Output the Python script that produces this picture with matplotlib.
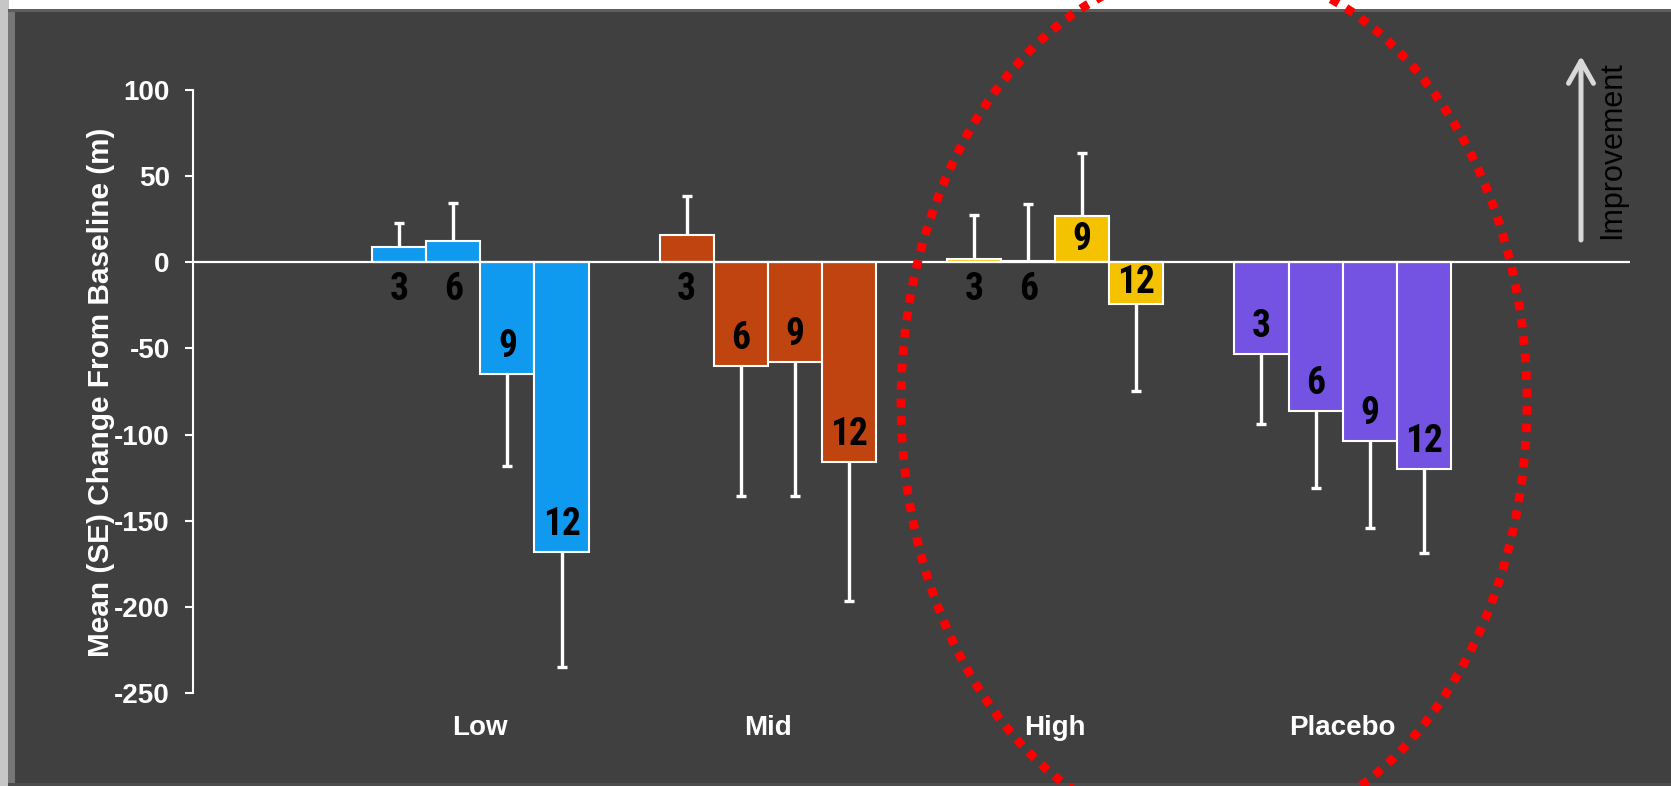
import matplotlib
matplotlib.use("Agg")
import matplotlib.pyplot as plt
from matplotlib import font_manager
from matplotlib.patches import Rectangle, Ellipse, Polygon, FancyArrowPatch
import numpy as np

W, H, DPI = 1671, 786, 100

# Mean (SE) change from baseline, by dose group and month
groups = ["Low", "Mid", "High", "Placebo"]
months = ["3", "6", "9", "12"]
low_mean = [9, 12.5, -65, -168]
low_se = [14, 22, 53, 67]
mid_mean = [16, -60, -58, -116]
mid_se = [22.5, 75.5, 77.5, 80.5]
high_mean = [1.7, 0.5, 27, -24]
high_se = [26, 33.5, 36.5, 51]
placebo_mean = [-53, -86.5, -104, -120]
placebo_se = [41, 44.5, 50, 49]
group_colors = ["#109AEF", "#C0440F", "#F5C200", "#7452E2"]
y_ticks = [100, 50, 0, -50, -100, -150, -200, -250]

means = [low_mean, mid_mean, high_mean, placebo_mean]
ses = [low_se, mid_se, high_se, placebo_se]

avail = {f.name for f in font_manager.fontManager.ttflist}
narrow = next((f for f in ["Liberation Sans Narrow", "DejaVu Sans Condensed",
                           "Roboto Condensed"] if f in avail), "Liberation Sans")
plt.rcParams["font.family"] = ["Liberation Sans", "DejaVu Sans"]

fig = plt.figure(figsize=(W / DPI, H / DPI), dpi=DPI, facecolor="#FFFFFF")

# slide-style backdrop with a bevelled dark panel
bg = fig.add_axes([0, 0, 1, 1], zorder=-1)
bg.set_xlim(0, W)
bg.set_ylim(H, 0)
bg.axis("off")
bg.add_patch(Rectangle((0, 0), 9, H, color="#C6C6C6", lw=0))
bg.add_patch(Rectangle((8, 9), W - 8, H - 9, color="#404040", lw=0))
bg.add_patch(Polygon([(8, 9), (15, 12), (15, H), (8, H)], closed=True,
                     color="#767676", lw=0))
bg.add_patch(Rectangle((8, 9), W - 8, 3, color="#5E5E5E", lw=0))
bg.add_patch(Rectangle((8, H - 3), W - 8, 3, color="#4C4C4C", lw=0))

# main bar chart
ax = fig.add_axes([193 / W, (H - 693) / H, (1630 - 193) / W, 603 / H], zorder=1)
ax.set_facecolor("none")
ax.set_xlim(0, 5)
ax.set_ylim(-250, 100)

w = 54 / 287
offsets = (np.arange(4) - 1.5) * w
for gi, (m, s, c) in enumerate(zip(means, ses, group_colors)):
    m = np.asarray(m, float)
    s = np.asarray(s, float)
    x = gi + 1 + offsets
    ax.bar(x, m, width=w, color=c, edgecolor="white", linewidth=1.5, zorder=2)
    ends = m + np.where(m >= 0, s, -s)
    ax.vlines(x, m, ends, color="white", lw=2.4, zorder=2)
    ax.plot(x, ends, ls="none", marker="_", ms=6.5, mew=2.4, color="white",
            zorder=2)
    for xi, v, lab in zip(x, m, months):
        if v > 20 or -30 < v < 0:
            ypos = v / 2
        elif v >= 0:
            ypos = -16
        else:
            ypos = v + 16
        ax.text(xi, ypos, lab, ha="center", va="center", fontsize=27,
                fontweight="bold", family=[narrow, "DejaVu Sans"],
                color="black", zorder=4)
    ax.text(gi + 1, -0.058, groups[gi], transform=ax.get_xaxis_transform(),
            ha="center", va="center", fontsize=20, fontweight="bold",
            color="white")

ax.axhline(0, color="white", lw=1.6, zorder=3)

ax.set_yticks(y_ticks)
ax.set_yticklabels([str(t) for t in y_ticks])
ax.tick_params(axis="y", colors="white", length=5.8, width=1.5, pad=11,
               labelsize=20)
for t in ax.get_yticklabels():
    t.set_fontweight("bold")
ax.set_xticks([])
for side in ["top", "right", "bottom"]:
    ax.spines[side].set_visible(False)
ax.spines["left"].set_color("white")
ax.spines["left"].set_linewidth(1.5)

fig.text(101 / W, (H - 392) / H, "Mean (SE) Change From Baseline (m)",
         rotation=90, ha="center", va="center", fontsize=21.4,
         fontweight="bold", color="white")

# annotations: improvement arrow and highlight ring
ov = fig.add_axes([0, 0, 1, 1], zorder=5)
ov.set_xlim(0, W)
ov.set_ylim(H, 0)
ov.axis("off")
ov.patch.set_alpha(0)

ov.add_patch(FancyArrowPatch((1581, 240), (1581, 56),
                             arrowstyle="->,head_length=0.8,head_width=0.45",
                             mutation_scale=20, lw=3.6, color="#D9D9D9",
                             shrinkA=0, shrinkB=0))
ov.text(1612, 150, "Improvement", rotation=90, ha="center", va="center",
        fontsize=22, color="black")

ov.add_patch(Ellipse((1214, 402), 626, 869, fill=False, ec="#FF0000",
                     lw=6.3, ls=(0, (1, 1.0)), capstyle="butt"))

fig.savefig("out.png", dpi=DPI, facecolor=fig.get_facecolor())
